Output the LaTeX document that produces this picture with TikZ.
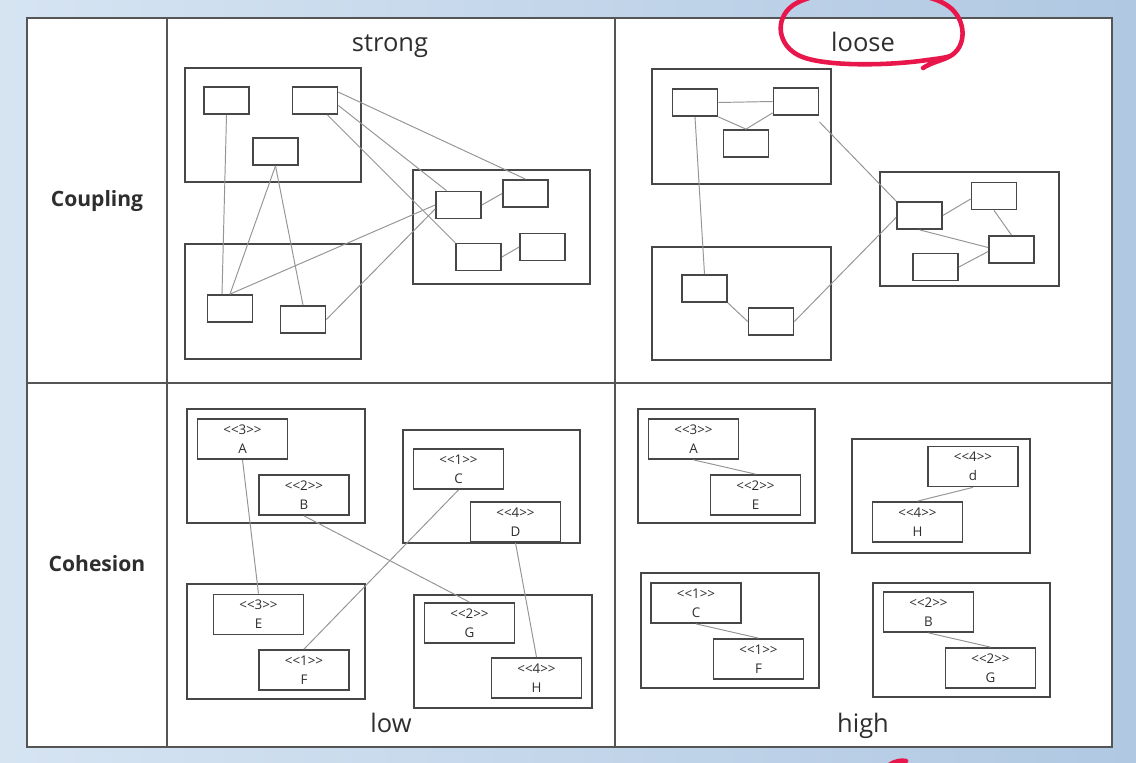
\documentclass[tikz,border=0pt]{standalone}
\usepackage{fontspec}
\setmainfont{Open Sans}
\usepackage{xcolor}
\usetikzlibrary{calc}

\definecolor{bgleft}{RGB}{214,228,242}
\definecolor{bgright}{RGB}{176,200,226}
\definecolor{gridgray}{HTML}{555555}
\definecolor{boxgray}{HTML}{474747}
\definecolor{linkgray}{HTML}{959595}
\definecolor{inkgray}{HTML}{2E2E2E}
\definecolor{penred}{RGB}{232,22,74}

% stereotype text, kern stops the << >> mapping
\newcommand{\stereo}[1]{<\kern0pt<#1>\kern0pt>}

\tikzset{
  modbox/.style={draw=boxgray, line width=1pt},
  comp/.style={draw=boxgray, line width=1pt, fill=white, inner sep=0pt,
    minimum width=0.9cm, minimum height=0.54cm},
  elem/.style={draw=boxgray, line width=1pt, fill=white, inner sep=0pt,
    minimum width=1.8cm, minimum height=0.8cm, align=center,
    font=\fontsize{7.6}{10.8}\selectfont, text=inkgray},
  link/.style={draw=linkgray, line width=0.55pt},
  rowlabel/.style={font=\fontsize{12}{14}\selectfont\bfseries, text=inkgray, anchor=base},
  collabel/.style={font=\fontsize{14.5}{17}\selectfont, text=inkgray, anchor=base}
}

\begin{document}
\begin{tikzpicture}[x=0.02cm, y=-0.02cm]

\useasboundingbox (0,0) rectangle (1136,763);

% Background and table
\shade[left color=bgleft, right color=bgright] (0,0) rectangle (1136,763);
\fill[white] (27,18) rectangle (1112,747);
\draw[gridgray, line width=1.1pt] (27,18) rectangle (1112,747);
\draw[gridgray, line width=1.1pt] (167,18) -- (167,747);
\draw[gridgray, line width=1.1pt] (615,18) -- (615,747);
\draw[gridgray, line width=1.1pt] (27,383) -- (1112,383);

% Row and column labels
\node[rowlabel] (coupling) at (97,207) {Coupling};
\node[rowlabel] (cohesion) at (97,571) {Cohesion};
\node[collabel] (strong) at (390,52) {strong};
\node[collabel] (loose) at (863,52) {loose};
\node[collabel] (low) at (391,732) {low};
\node[collabel] (high) at (863,732) {high};

% Strong coupling: modules
\draw[modbox] (185,68) rectangle (361,182);
\draw[modbox] (185,244) rectangle (361,359);
\draw[modbox] (413,170) rectangle (590,284);

\node[comp] (s1) at (226.5,100.5) {};
\node[comp] (s2) at (315,100.5) {};
\node[comp] (s3) at (275.5,151.5) {};
\node[comp] (s4) at (458.5,205) {};
\node[comp] (s5) at (525.5,193.5) {};
\node[comp] (s6) at (478.5,257) {};
\node[comp] (s7) at (542.5,247) {};
\node[comp] (s8) at (230,308.5) {};
\node[comp] (s9) at (303,319.5) {};

\draw[link] (s1.south) -- ($(s8.north)+(-8,0)$);
\draw[link] (s3.south) -- (s8.north);
\draw[link] (s3.south) -- (s9.north);
\draw[link] ($(s2.north east)+(0,6)$) -- (s5.north);
\draw[link] ($(s2.east)+(0,5)$) -- ($(s4.north)+(-12,0)$);
\draw[link] ($(s2.south east)+(-11,0)$) -- (s6.north west);
\draw[link] (s8.north) -- (s4.west);
\draw[link] (s9.east) -- ($(s4.west)+(0,4)$);
\draw[link] (s4.east) -- (s5.west);
\draw[link] (s6.east) -- (s7.west);

% Loose coupling: modules
\draw[modbox] (652,69) rectangle (831,184);
\draw[modbox] (652,247) rectangle (831,360);
\draw[modbox] (880,172) rectangle (1059,286);

\node[comp] (l1) at (695,102.5) {};
\node[comp] (l2) at (796,101.5) {};
\node[comp] (l3) at (746,143.5) {};
\node[comp] (l4) at (919.5,215.5) {};
\node[comp] (l5) at (994,196) {};
\node[comp] (l6) at (1011.5,249.5) {};
\node[comp] (l7) at (935.5,267) {};
\node[comp] (l8) at (704.5,288.5) {};
\node[comp] (l9) at (771,321.5) {};

\draw[link] (l1.east) -- (l2.west);
\draw[link] (l1.south east) -- (l3.north);
\draw[link] ($(l2.south west)+(0,-3)$) -- (l3.north);
\draw[link] (l1.south) -- (l8.north);
\draw[link] ($(l2.south east)+(0,6)$) -- (l4.north west);
\draw[link] (l9.east) -- ($(l4.west)+(0,2)$);
\draw[link] (l8.south east) -- (l9.west);
\draw[link] (l4.east) -- ($(l5.west)+(0,3)$);
\draw[link] (l5.south) -- (l6.north);
\draw[link] (l4.south) -- ($(l6.west)+(0,-2)$);
\draw[link] (l7.east) -- ($(l6.west)+(0,2)$);

% Low cohesion
\draw[modbox] (187,409) rectangle (365,523);
\draw[modbox] (403,430) rectangle (580,543);
\draw[modbox] (187,584) rectangle (365,699);
\draw[modbox] (414,595) rectangle (592,708);

\node[elem] (lowA) at (242.5,439) {\stereo{3}\\A};
\node[elem] (lowB) at (304,495) {\stereo{2}\\B};
\node[elem] (lowC) at (458.5,469) {\stereo{1}\\C};
\node[elem] (lowD) at (515.5,522) {\stereo{4}\\D};
\node[elem] (lowE) at (258.5,614.5) {\stereo{3}\\E};
\node[elem] (lowF) at (304,670) {\stereo{1}\\F};
\node[elem] (lowG) at (469.5,623) {\stereo{2}\\G};
\node[elem] (lowH) at (536.5,678) {\stereo{4}\\H};

\draw[link] (lowA.south) -- (lowE.north);
\draw[link] (lowB.south) -- (lowG.north);
\draw[link] (lowC.south) -- (lowF.north);
\draw[link] (lowD.south) -- (lowH.north);

% High cohesion
\draw[modbox] (638,409) rectangle (815,523);
\draw[modbox] (852,439) rectangle (1030,553);
\draw[modbox] (641,573) rectangle (819,688);
\draw[modbox] (873,583) rectangle (1050,697);

\node[elem] (highA) at (693.5,439) {\stereo{3}\\A};
\node[elem] (highE) at (755.5,495) {\stereo{2}\\E};
\node[elem] (highd) at (973,466.5) {\stereo{4}\\d};
\node[elem] (highH) at (917.5,522) {\stereo{4}\\H};
\node[elem] (highC) at (696,603) {\stereo{1}\\C};
\node[elem] (highF) at (758.5,659) {\stereo{1}\\F};
\node[elem] (highB) at (928.5,612) {\stereo{2}\\B};
\node[elem] (highG) at (990.5,668) {\stereo{2}\\G};

\draw[link] (highA.south) -- (highE.north);
\draw[link] (highd.south) -- (highH.north);
\draw[link] (highC.south) -- (highF.north);
\draw[link] (highB.south) -- (highG.north);

% Red pen marks
\begin{scope}
\clip (0,0) rectangle (1136,763);
\draw[penred, line width=2.6pt, line cap=round, line join=round]
  (923,68) .. controls (932,62) and (945,60) .. (952,55)
  .. controls (968,44) and (966,16) .. (945,4)
  .. controls (915,-14) and (818,-14) .. (792,6)
  .. controls (774,20) and (778,46) .. (800,56)
  .. controls (822,66) and (880,66) .. (920,61)
  .. controls (935,59) and (945,58) .. (950,56);
\draw[penred, line width=2.6pt, line cap=round] (889,765) .. controls (895,761) and (901,760) .. (906,761);
\end{scope}

\end{tikzpicture}
\end{document}
